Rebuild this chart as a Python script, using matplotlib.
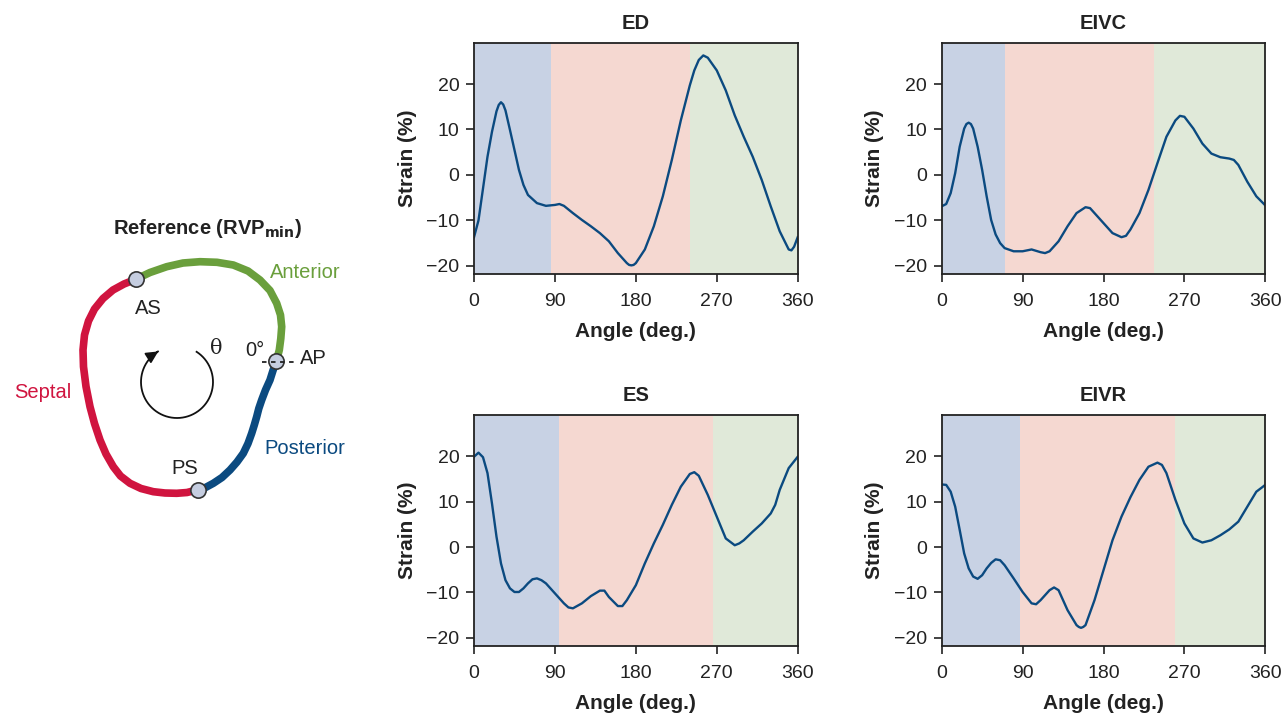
import numpy as np
import matplotlib.pyplot as plt

plt.rcParams['font.family'] = ['Liberation Sans', 'DejaVu Sans']

# ---------------- data ----------------
ed_angle = [0, 5, 10, 15, 20, 25, 27.5, 30, 32.5, 35, 40, 45, 50, 55, 60, 70, 80, 90, 95, 100, 110, 120,
            130, 140, 145, 150, 160, 170, 172.5, 175, 177.5, 180, 190, 200, 210, 220, 230, 240, 245, 250,
            255, 260, 270, 280, 290, 300, 310, 320, 330, 340, 350, 353, 356, 360]
ed_strain = [-13.7, -10.0, -3.0, 4.0, 9.5, 14.0, 15.4, 16.0, 15.5, 14.2, 9.9, 5.5, 1.1, -2.2, -4.4, -6.2,
             -6.8, -6.6, -6.4, -6.8, -8.4, -9.9, -11.3, -12.8, -13.7, -14.6, -17.2, -19.4,
             -19.8, -19.9, -19.8, -19.4, -16.4, -11.3, -4.7, 3.3, 12.0, 19.7, 23.0, 25.3, 26.3, 25.8, 23.0,
             18.6, 13.1, 8.4, 4.0, -1.1, -6.9, -12.4, -16.4, -16.6, -15.8, -13.7]

eivc_angle = [0, 5, 10, 15, 20, 25, 27.5, 30, 32.5, 35, 40, 45, 50, 55, 60, 65, 70, 80, 90, 100, 110, 115,
              120, 130, 140, 150, 160, 165, 170, 180, 190, 200, 205, 210, 220, 230, 240, 250,
              260, 265, 270, 280, 290, 300, 310, 320, 325, 330, 340, 350, 360]
eivc_strain = [-6.9, -6.4, -4.0, 0.4, 6.2, 10.2, 11.2, 11.5, 11.2, 10.2, 6.2, 1.1, -4.7, -9.9, -13.1, -15.0,
               -16.1, -16.8, -16.8, -16.4, -17.0, -17.2, -16.8, -14.6, -11.3, -8.4, -7.1, -7.3,
               -8.4, -10.6, -12.8, -13.7, -13.4, -12.0, -8.4, -3.3, 2.6, 8.4, 12.0, 13.0, 12.8,
               10.2, 6.9, 4.7, 3.9, 3.6, 3.3, 2.2, -1.5, -4.7, -6.7]

es_angle = [0, 5, 10, 15, 20, 25, 30, 35, 40, 45, 50, 55, 60, 65, 70, 75, 80, 90, 100, 105,
            110, 120, 130, 140, 145, 150, 160, 165, 170, 180, 190, 200, 210, 220, 230, 240,
            245, 250, 260, 270, 280, 290, 295, 300, 310, 320, 330, 335, 340, 350, 360]
es_strain = [19.9, 20.8, 19.8, 16.3, 9.6, 2.3, -3.6, -7.3, -9.1, -9.9, -9.9, -9.1, -8.0, -7.1,
             -6.9, -7.3, -8.0, -10.2, -12.4, -13.3, -13.5, -12.4, -10.8, -9.6, -9.6, -11.0,
             -13.0, -13.0, -11.7, -8.4, -3.6, 0.8, 4.9, 9.3, 13.3, 16.1, 16.5, 15.7, 11.5, 6.7,
             1.9, 0.4, 0.8, 1.5, 3.4, 5.2, 7.4, 9.3, 12.6, 17.4, 19.9]

eivr_angle = [0, 5, 10, 15, 20, 25, 30, 35, 40, 45, 50, 55, 60, 65, 70, 80, 90, 100, 105, 110,
              120, 125, 130, 140, 150, 152.5, 155, 157.5, 160, 170, 180, 190, 200, 210, 220, 230, 240, 245,
              250, 260, 270, 280, 290, 300, 310, 320, 330, 340, 350, 360]
eivr_strain = [13.8, 13.7, 12.2, 8.9, 3.8, -1.4, -4.7, -6.5, -7.0, -6.2, -4.7, -3.5, -2.7, -2.9,
               -4.0, -6.9, -9.9, -12.4, -12.6, -11.7, -9.5, -8.9, -9.5, -13.9, -17.2, -17.6, -17.8,
               -17.6, -17.2, -11.7, -5.1, 1.5, 6.7, 11.0, 14.8, 17.7, 18.6, 18.1, 16.3, 10.4, 5.2, 1.9,
               1.0, 1.5, 2.6, 3.9, 5.6, 8.9, 12.2, 13.7]

panel_names = ['ED', 'EIVC', 'ES', 'EIVR']
# region boundaries (deg): blue / red / green
blue_end = [85.6, 70.4, 94.5, 87.1]
red_end = [240.2, 236.2, 265.8, 259.5]

# schematic outline points (pixel coords of the left panel)
anterior_x = [135.7, 150.0, 166.7, 183.0, 200.0, 217.0, 233.3, 248.0, 260.0, 270.0, 276.7, 280.5, 281.7, 280.8, 279.3, 276.3]
anterior_y = [279.3, 272.5, 266.7, 263.0, 261.7, 262.3, 265.0, 271.0, 280.0, 290.5, 303.3, 315.0, 326.7, 338.5, 350.0, 361.3]
posterior_x = [276.3, 273.0, 270.0, 265.5, 261.7, 258.8, 256.7, 254.3, 251.7, 248.0, 243.3, 237.0, 230.0, 222.0, 213.3, 205.5, 198.0]
posterior_y = [361.3, 370.5, 380.0, 390.0, 400.0, 408.5, 416.7, 425.0, 433.3, 443.5, 453.3, 462.0, 470.0, 477.5, 483.3, 487.5, 489.7]
septal_x = [198.0, 187.0, 176.7, 165.0, 153.3, 141.0, 130.0, 120.5, 113.3, 106.0, 100.0, 94.5, 90.0, 86.0, 83.5, 83.0, 84.5, 88.5, 94.5, 103.0, 113.0, 124.0, 135.7]
septal_y = [489.7, 492.5, 493.3, 493.0, 491.7, 488.5, 483.3, 476.0, 466.7, 454.0, 440.0, 423.5, 406.7, 386.5, 366.7, 350.0, 335.0, 321.0, 309.0, 298.5, 290.0, 284.0, 279.3]

line_color = '#0b4a80'
band_colors = ['#c8d2e4', '#f5d8d1', '#e0e9d9']
ink = '#222222'

fig = plt.figure(figsize=(12.83, 7.15), dpi=100)

# ---------------- schematic ----------------
axs = fig.add_axes([0, 0, 360 / 1283, 1])
axs.set_xlim(0, 360)
axs.set_ylim(715, 0)
axs.axis('off')

axs.plot(anterior_x, anterior_y, color='#6a9f3c', lw=5.5, solid_capstyle='butt', solid_joinstyle='round')
axs.plot(posterior_x, posterior_y, color='#0b4a80', lw=5.5, solid_capstyle='butt', solid_joinstyle='round')
axs.plot(septal_x, septal_y, color='#d0143f', lw=5.5, solid_capstyle='butt', solid_joinstyle='round')

for px, py in [(anterior_x[0], anterior_y[0]), (anterior_x[-1], anterior_y[-1]), (septal_x[0], septal_y[0])]:
    axs.plot(px, py, 'o', ms=11, mfc='#c5cde0', mec='#333333', mew=1.2, zorder=5)

# dashed 0 deg line through AP
axs.plot([262, 295], [362, 362], color=ink, lw=1.3, ls=(0, (2.5, 2.5)), zorder=6)

# rotation arrow
cx, cy, r = 177.0, 382.0, 36.0
a = np.deg2rad(np.linspace(57, -238, 200))
axs.plot(cx + r * np.cos(a), cy - r * np.sin(a), color='#111111', lw=1.3)
a_end = np.deg2rad(-243)
a_pre = np.deg2rad(-232)
axs.annotate('', xy=(cx + r * np.cos(a_end), cy - r * np.sin(a_end)),
             xytext=(cx + r * np.cos(a_pre), cy - r * np.sin(a_pre)),
             arrowprops=dict(arrowstyle='-|>', color='#111111', lw=1.3, mutation_scale=18))

axs.text(208, 228, r'Reference (RVP$_{\mathbf{min}}$)', ha='center', va='center',
         fontsize=14.5, fontweight='bold', color=ink)
axs.text(216, 349, 'θ', ha='center', va='center', fontsize=15, family='DejaVu Serif', color=ink)
axs.text(255, 351, '0°', ha='center', va='center', fontsize=14.5, color=ink)
axs.text(313, 359, 'AP', ha='center', va='center', fontsize=14.5, color=ink)
axs.text(148, 309, 'AS', ha='center', va='center', fontsize=14.5, color=ink)
axs.text(185, 468, 'PS', ha='center', va='center', fontsize=14.5, color=ink)
axs.text(305, 272, 'Anterior', ha='center', va='center', fontsize=14.5, color='#6a9f3c')
axs.text(43, 393, 'Septal', ha='center', va='center', fontsize=14.5, color='#d0143f')
axs.text(305, 449, 'Posterior', ha='center', va='center', fontsize=14.5, color='#0b4a80')

# ---------------- strain panels ----------------
angles = [ed_angle, eivc_angle, es_angle, eivr_angle]
strains = [ed_strain, eivc_strain, es_strain, eivr_strain]
positions = [
    [474 / 1283, 1 - 274 / 715, 323.7 / 1283, 231.3 / 715],
    [941.7 / 1283, 1 - 274 / 715, 323.6 / 1283, 231.3 / 715],
    [474 / 1283, 1 - 646 / 715, 323.7 / 1283, 231 / 715],
    [941.7 / 1283, 1 - 646 / 715, 323.6 / 1283, 231 / 715],
]

for i in range(4):
    ax = fig.add_axes(positions[i])
    ax.axvspan(0, blue_end[i], color=band_colors[0], lw=0)
    ax.axvspan(blue_end[i], red_end[i], color=band_colors[1], lw=0)
    ax.axvspan(red_end[i], 360, color=band_colors[2], lw=0)
    ax.plot(angles[i], strains[i], color=line_color, lw=1.7, solid_joinstyle='round')
    ax.set_xlim(0, 360)
    ax.set_ylim(-21.8, 29.1)
    ax.set_xticks([0, 90, 180, 270, 360])
    ax.set_yticks([-20, -10, 0, 10, 20])
    ax.tick_params(direction='out', length=5.5, width=1.2, pad=5, labelsize=14, colors=ink)
    ax.tick_params(axis='x', pad=8)
    for sp in ax.spines.values():
        sp.set_linewidth(1.3)
        sp.set_color(ink)
    ax.set_title(panel_names[i], fontsize=14.5, fontweight='bold', color=ink, pad=10)
    ax.set_xlabel('Angle (deg.)', fontsize=15, fontweight='bold', color=ink, labelpad=9)
    ax.set_ylabel('Strain (%)', fontsize=15, fontweight='bold', color=ink, labelpad=7)

fig.savefig('out.png', dpi=100)
